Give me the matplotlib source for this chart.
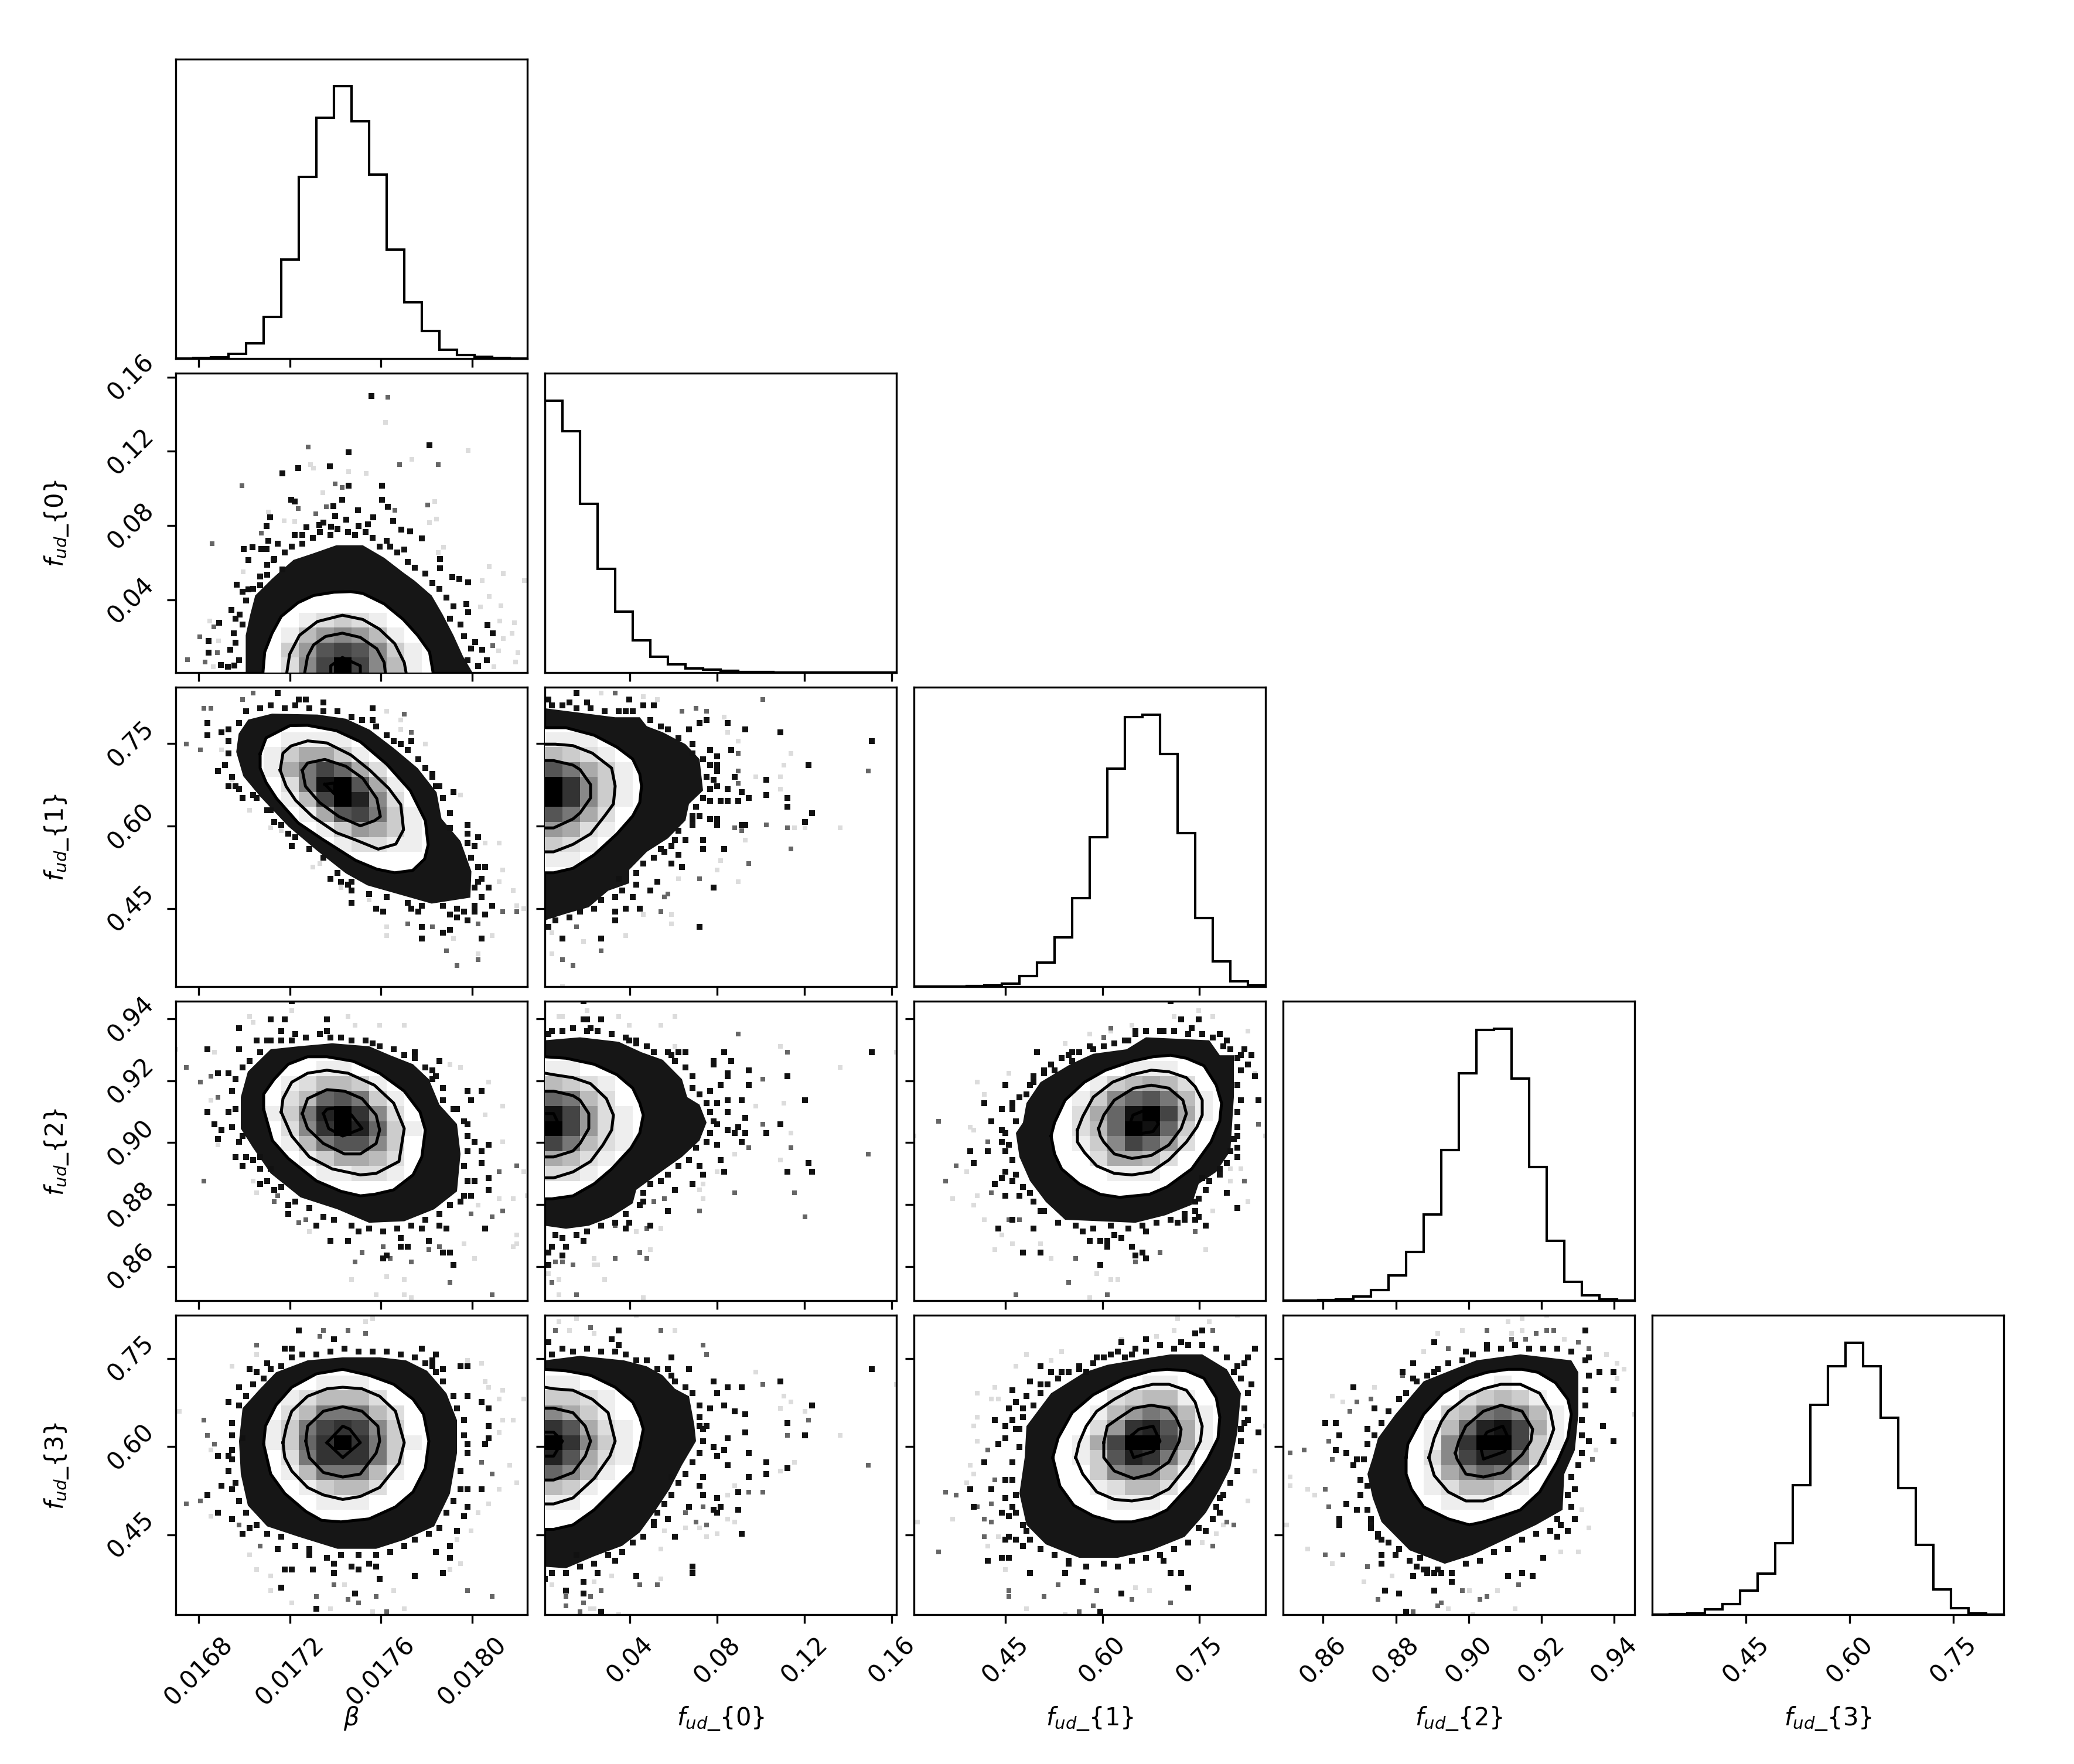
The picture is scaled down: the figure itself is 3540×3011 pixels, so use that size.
import numpy as np
import matplotlib
matplotlib.use("Agg")
import matplotlib.pyplot as plt
from matplotlib.patches import Polygon

names = [r"$\beta$", "$f_{ud}$_{0}", "$f_{ud}$_{1}", "$f_{ud}$_{2}", "$f_{ud}$_{3}"]
ranges = [(0.0167, 0.018242), (0.00099, 0.16207), (0.308, 0.8527), (0.849, 0.9456), (0.3143, 0.823)]
tick_vals = [[0.0168, 0.0172, 0.0176, 0.0180], [0.04, 0.08, 0.12, 0.16], [0.45, 0.60, 0.75],
             [0.86, 0.88, 0.90, 0.92, 0.94], [0.45, 0.60, 0.75]]
tick_txt = [["0.0168", "0.0172", "0.0176", "0.0180"], ["0.04", "0.08", "0.12", "0.16"], ["0.45", "0.60", "0.75"],
            ["0.86", "0.88", "0.90", "0.92", "0.94"], ["0.45", "0.60", "0.75"]]

# 1d histograms, bin heights
hist_beta = [0, 0.5, 5, 22, 75, 205, 489, 899, 1194, 1349, 1177, 912, 540, 279, 135, 42, 17, 7, 0.5, 0]
hist_f0 = [205, 182, 127, 78, 46, 24, 12, 6, 3, 2, 1, 0.5, 0.5, 0, 0, 0, 0, 0, 0, 0]
hist_f1 = [0, 0, 0, 0.3, 1, 2, 8, 18, 37, 67, 113, 165, 204, 206, 176, 116, 52, 19, 4, 1]
hist_f2 = [0, 0, 0.5, 1, 3, 8, 19, 37, 65, 114, 172, 205, 206, 168, 101, 45, 14, 4, 1, 0]
hist_f3 = [0, 0.3, 1, 4, 8, 18, 31, 54, 98, 159, 188, 206, 188, 149, 96, 53, 19, 5, 1, 0]

# 2d panels: positions are percent of each axis range (x from left, y from top),
# read off the picture; cells are (row, first col, grey digits) on the 20x20 grid
b_f0_cells = [(16, 6, "fedcdef"), (17, 5, "feb989bef"), (18, 5, "fc95458cef"), (19, 5, "fd84048bef")]
b_f0_lines = [
    [24.8,100, 25.3,93.2, 27.4,86.9, 30,81.3, 34.8,76.7, 39.2,74.3, 45,73.2, 49.8,73, 53.2,73.6, 59.3,77.1, 64.7,82.3, 68.8,87.6, 72.2,93.2, 73.2,100],
    [31.6,100, 32.4,93.9, 35.2,87.6, 40.3,83, 47.4,80.9, 53.2,82.3, 57.9,85.5, 62.3,90.4, 65,96.7, 65.5,100],
    [36.7,100, 37.5,94.6, 39.2,90.8, 42.6,88, 47.4,86.9, 52.5,88.3, 57.2,92.1, 59.3,96.7, 59.6,100],
    [44.1,100, 44.1,97.8, 47.4,95, 52.5,97.8, 52.5,100]]
b_f0_cloud = [19.9,100, 19.9,87.6, 21.2,80.6, 22.6,74.3, 27.4,68.7, 29.4,66.6, 33.5,62.4, 38.9,60.3, 45.7,57.5, 53.2,57.5, 59.3,61.7, 64.7,66.6, 68,69.4, 72.8,74.3, 75.9,80.6, 79,87.6, 81.7,94.6, 84.4,100]
b_f0_edge = [18,96, 17,90, 19,84, 17,82, 20,76, 22,72, 19,73, 24,68, 26,64, 28,62, 31,60, 33,58, 36,57, 39,55, 41,53, 44,54, 46,52, 49,53, 51,54, 54,53, 56,55, 58,58, 61,58, 63,60, 66,63, 68,65, 71,67, 73,70, 75,72, 77,75, 79,78, 78,82, 81,84, 82,88, 84,92, 83,96, 86,98, 36,54, 42,50, 52,51, 60,56, 29,57, 65,59]
b_f0_dark = [55.7,7.6, 72.2,24, 49.2,26.4, 34.8,31.7, 30.3,33.4, 43.8,31.1, 49.2,37.6, 58.7,37.6, 32.8,42.3, 33.8,42.9, 47.3,42.3, 58.7,42.3, 60.3,44.6, 44.8,44.5, 51.8,45.9, 26.8,48.1, 45.3,47.7, 48.5,48.9, 56.2,48.2, 61.8,49.4, 25.8,51, 37.1,51.5, 40.8,50.8, 44.2,51.2, 54.7,50.5, 64.2,52.2, 66.7,52.9, 33.8,54.1, 70,55.2, 26.3,55.9, 19.4,58.7, 21.8,58.2, 24.3,58.7, 25.8,58.7, 75.2,62, 75.2,65.2, 80.7,68.7, 78.6,68.2, 83.2,69.9, 82.7,77.1, 83.2,79.9, 88.7,84.1, 90.2,87, 85.1,89.9, 87.2,92.4, 88.5,96, 12.3,83.5, 9.3,89.4, 9.3,93.5, 12.8,97.6, 14.8,98.1, 16.6,97.8, 15.8,79.2, 17.4,70.6, 15.5,92.5, 16.5,86.9, 18.2,80.6, 20.6,62.4, 27.9,62.4, 30.4,65.5, 26,67.3, 20.6,72.2, 24,70.8]
b_f0_mid = [60.3,8.1, 37.7,24.6, 63.7,30.5, 74.7,30.5, 18.8,37.6, 45.3,37, 47.3,38.2, 34.8,45.2, 42.8,44.7, 39.8,47, 62.3,45.8, 71.7,44.1, 24.3,53.4, 10.4,56.9, 6.8,88.1, 3.4,95.8, 8.4,96.5, 11.9,93.5, 10.9,84.7, 90.2,91.1]
b_f0_light = [59.7,16.4, 83.2,25.8, 67.2,28.7, 38.4,30.5, 39.2,31.7, 49.2,32.9, 54.2,33.4, 41.8,39.9, 73.7,42.9, 74.2,48.8, 72.2,49.9, 30.8,49.4, 33.8,49.6, 89.1,64.6, 93.2,67, 99.1,69.4, 87.1,69.4, 89.1,74.6, 92.5,77.8, 86.6,78.1, 92.2,82.9, 96.3,83.4, 95.6,86.9, 93.2,88.8, 97.3,93.5, 96.6,96.5, 91.9,92.9, 90.5,98.1, 76.2,58.2, 74.7,59.9, 19.2,66.4, 26.3,46.4, 9.7,82.8, 10.7,98.1, 12.2,89.4]

b_f1_cells = [(3, 5, "feeeef"), (4, 5, "ecaacef"), (5, 5, "ea746adf"), (6, 5, "fd7105ae"), (7, 5, "feb4028df"), (8, 6, "fea547ce"), (9, 7, "fec9acef"), (10, 8, "feddeef")]
b_f1_lines = [
    [24,22.3, 25.7,16.9, 32.5,12.8, 37.5,12.7, 45.7,14.5, 52.5,18.2, 60,25.7, 66.7,34.5, 71,44.6, 71.8,52.7, 70.8,57.4, 67.4,61.2, 62.3,62, 57.2,60.8, 51.1,57.8, 41.6,50.7, 34.8,45.3, 28.7,37.2, 25.7,31.8, 24,27],
    [29.7,27.7, 30.5,22, 32.8,19.6, 37.5,17.9, 43,18.6, 49.8,22.6, 55.2,27.7, 60.6,33.8, 64,39.2, 64.8,47.6, 62.6,52.4, 57.6,54.1, 51.1,51, 45.7,48.6, 38.9,43.2, 34.1,37.8, 31.4,33.1],
    [36,27.7, 37.5,25.3, 42.4,24.1, 48.4,26.4, 53.2,30.4, 57.2,37.2, 58.2,43.2, 56.5,44.6, 52.5,46.3, 46.4,43.2, 40.9,38.5, 36.9,33.1],
    [42.4,32.4, 45.2,32, 45.2,35.7]]
b_f1_cloud = [20.6,10.8, 27.4,8.8, 40.3,9.1, 48.4,10.5, 55.2,14.2, 62,20.3, 68.8,27, 74.2,35.1, 75.6,43.9, 81,51.4, 84.1,61.5, 83.8,70.3, 72.8,72.3, 64.7,69.6, 54.5,66.2, 48.4,62.2, 40.3,54.7, 32.1,46.6, 24,36.5, 19.2,29.7, 17.2,21.6, 17.9,15.5]
b_f1_edge = [15,22, 14,26, 16,30, 18,34, 15,18, 18,12, 20,8, 24,7, 27,6, 31,7, 34,6, 38,7, 42,8, 46,8, 50,10, 53,11, 57,13, 60,16, 62,18, 66,21, 69,24, 71,27, 73,30, 75,33, 76,37, 78,42, 78,47, 83,49, 85,53, 84,57, 86,60, 87,70, 85,73, 80,74, 76,73, 70,73, 66,72, 60,70, 55,69, 50,65, 46,62, 42,57, 38,54, 34,50, 30,46, 26,41, 22,36, 82,75, 78,76, 88,60, 86,65]
b_f1_dark = [29,2, 35,4, 37,4, 42,5, 56,7, 56,11, 46,8, 67,18, 64,19, 79,35, 73,29, 74,33, 83,46, 86,50, 83,52, 87,64, 89,67, 85,67, 87,84, 70,84, 70,80, 78,81, 76,82, 50,72, 57,74, 59,75, 67,74, 69,75, 44,64, 47,65, 49,66, 32,49, 28,45, 33,53, 19,37, 15,33, 17,33, 12,28, 9,12, 9,16, 13,15, 15,14, 50,68, 83,78, 80,77, 88,76, 90,73, 85,75, 27,41, 23,37]
b_f1_mid = [8,7, 10,7, 19,4, 22,2, 65,9, 67,15, 3,19, 7,21, 86,79, 77,88, 86,91, 80,93, 73,80, 66,79, 93,75, 97,75]
b_f1_light = [60,8, 64,11, 64,14, 71,19, 81,36, 92,52, 88,52, 93,61, 92,65, 96,68, 97,73, 99,74, 90,83, 60,80, 60,83, 79,84, 86,89, 39,60, 41,59, 21,41, 16,31, 13,21, 55,71, 47,67, 27,47, 30,48]

f0_f1_cells = [(3, 0, "eeeff"), (4, 0, "bcdef"), (5, 0, "57ace"), (6, 0, "038ce"), (7, 0, "038ce"), (8, 0, "57adf"), (9, 0, "9adef"), (10, 0, "cdef"), (11, 0, "eeff")]
f0_f1_lines = [
    [0,13.5, 6,13.5, 14,16, 20.5,20, 25,24, 27,29, 27.5,33, 27,38.5, 25,43, 20.5,49, 14,56, 8,60.5, 2.5,62, 0,62],
    [0,19, 3,19, 8,19.5, 13.5,22, 19,27, 20,33, 19.5,39, 17,43, 13,49, 8,52.5, 2.5,55, 0,55],
    [0,24.5, 2.5,24.5, 8,26, 10,27.5, 13,32.5, 13,37, 10,42, 8,44, 2.5,47, 0,47]]
f0_f1_cloud = [0,7, 10,8.5, 20,10, 27,10, 29,13, 33.5,15, 40,19, 44,24, 45,34.5, 41,39, 40,44.5, 35,50.5, 29,55, 24,61, 24,65.5, 18,68, 12.5,73.5, 6.5,75.5, 1,77.5, 0,78]
f0_f1_edge = [2,6, 5,6, 9,7, 13,7, 17,8, 21,8, 25,8, 30,11, 33,13, 35,14, 38,17, 42,19, 42,22, 45,24, 47,26, 46,30, 47,34, 45,37, 43,40, 42,43, 42,46, 38,48, 37,51, 33,54, 31,57, 28,59, 26,62, 26,66, 22,68, 20,70, 16,71, 14,74, 10,75, 7,77, 3,78, 1,80, 36,53, 47,38, 49,33]
f0_f1_dark = [9,2, 1,4, 7,5, 12,5, 24,4, 31,6, 28,6, 23,8, 46,11, 44,12, 52,12, 57,14, 67,15, 41,14, 93,18, 75,26, 47,21, 53,21, 49,23, 49,26, 49,28, 54,30, 48,31, 63,31, 52,34, 56,35, 58,37, 63,36, 69,37, 69,40, 55,38, 52,38, 50,38, 76,42, 74,45, 56,46, 57,46, 49,46, 47,44, 49,44, 44,43, 42,44, 51,54, 45,54, 40,51, 39,60, 30,68, 32,65, 48,67, 44,80, 20,78, 23,74, 27,74, 16,84, 5,84, 20,75, 25,70, 21,64, 36,59, 38,56, 34,55, 45,51]
f0_f1_mid = [62,4, 20,2, 39,8, 43,7, 46,8, 55,22, 92,28, 55,28, 55,32, 63,46, 69,47, 54,47, 56,48, 70,54, 58,59, 44,64, 16,88, 5,91, 8,93, 9,80, 34,70, 35,69, 33,75]
f0_f1_light = [51,10, 52,15, 55,18, 70,22, 68,26, 67,30, 67,34, 60,30, 71,47, 74,47, 84,47, 57,51, 50,58, 49,61, 55,65, 38,64, 36,79, 36,76, 28,76, 23,83, 11,85, 2,89, 2,82, 5,100, 16,2, 28,3, 32,4]

b_f2_cells = [(4, 6, "ffeeff"), (5, 5, "fedbbcef"), (6, 5, "fdb657cef"), (7, 5, "ec72038df"), (8, 5, "fd83026ce"), (9, 6, "eb7558cf"), (10, 6, "fecaabdf"), (11, 7, "feeddef"), (12, 8, "fffff")]
b_f2_lines = [
    [25,36, 25,31, 28,26, 32,21, 37.5,18.5, 43,18.5, 50.5,20, 58,24, 65,30, 69.5,37, 71,43, 70,52, 67.5,58, 62,63, 56.5,64.5, 52.5,65, 47,63.5, 40,60, 32,52.5, 27.5,46.5],
    [30,37, 30.5,32.5, 33,27, 37.5,24, 43,23, 49,24, 56.5,28, 62,34, 65,42.5, 63.5,53.5, 57,57.5, 52.5,58, 44.5,56, 38,52, 33,45],
    [36,37.5, 37.5,32.5, 43,29.5, 48,30, 53,32.5, 57,38, 58,43, 57,47.5, 52.5,51, 48,51, 42,47.5, 37.5,42.5],
    [42,37.5, 43,36, 47.5,35.5, 50,38, 53,42.5, 47.5,45, 43.5,42.5]]
b_f2_cloud = [18.5,32, 20.5,23.5, 27,16, 35,15, 44.5,14, 55,15, 61,18, 67.5,21, 72,26, 75,34.5, 80,41, 81,51, 80,63.5, 73.5,69.5, 65,73.5, 55,74, 46,69.5, 35.5,65.5, 27,57.5, 22,49, 18.5,42.5]
b_f2_edge = [17,26, 19,22, 16,30, 21,20, 24,17, 26,13, 30,13, 33,13, 37,12, 41,11, 44,12, 47,12, 50,13, 54,13, 58,15, 62,16, 65,18, 68,19, 71,22, 74,25, 76,29, 76,33, 79,36, 82,40, 83,45, 83,50, 82,55, 83,60, 82,65, 78,68, 75,71, 71,73, 67,75, 63,76, 59,77, 55,76, 50,75, 45,73, 42,72, 38,69, 34,67, 30,62, 26,60, 24,56, 20,52, 18,47, 16,42, 15,37, 17,52, 70,76]
b_f2_dark = [33,0, 27,6, 31,6, 18,9, 43,6, 43,10, 30,10, 18,16, 23,13, 27,13, 34,11, 56,14, 68,17, 73,23, 73,26, 75,20, 83,30, 87,30, 84,33, 80,36, 83,41, 85,47, 89,48, 87,50, 87,54, 89,59, 89,63, 85,60, 84,65, 81,67, 88,76, 77,76, 75,75, 72,80, 76,84, 78,84, 79,88, 66,82, 64,82, 64,79, 60,85, 59,86, 49,80, 52,77, 44,80, 40,75, 32,71, 32,68, 28,63, 24,61, 19,55, 22,53, 12,46, 13,43, 11,41, 9,37, 9,16, 15,24, 12,24, 17,36, 19,45, 24,52, 27,56]
b_f2_mid = [90,72, 78,94, 90,98, 51,87, 67,87, 61,86, 53,84, 59,82, 72,83, 75,82, 84,71, 8,60, 3,22, 7,27, 10,25, 12,32, 28,67, 29,65, 35,74, 37,73, 93,70, 97,55, 92,57]
b_f2_light = [33,3, 49,5, 21,5, 22,7, 51,8, 58,8, 65,8, 0,16, 11,17, 78,21, 81,22, 89,27, 93,35, 88,38, 93,47, 99,57, 96,66, 92,66, 100,65, 86,68, 97,81, 96,82, 97,78, 85,86, 82,81, 60,92, 65,93, 50,93, 57,98, 65,98, 67,99, 22,60, 23,64, 12,48, 10,33, 38,77]

f0_f2_cells = [(4, 0, "eefff"), (5, 0, "bcdef"), (6, 0, "67bdf"), (7, 0, "149de"), (8, 0, "049de"), (9, 0, "47bde"), (10, 0, "abdef"), (11, 0, "ddeff")]
f0_f2_lines = [
    [0,18.5, 6,19, 14,21, 20.5,24.5, 25,29, 27,34, 28,38, 27,44, 24.5,49, 19,56, 14,61, 8,65, 2,66, 0,66],
    [0,24, 2.5,24.5, 8,25.5, 13,27.5, 17.5,32.5, 19.5,38, 19,43, 16.5,48, 13,53.5, 8,57, 2.5,59, 0,59],
    [0,30, 2.5,30, 8,31.5, 10,33, 12.5,37.5, 12.5,42.5, 10,47.5, 8,50, 2.5,52, 0,52],
    [0,37.5, 2.5,37.5, 3.5,40]]
f0_f2_cloud = [0,13, 10,12, 21,13.5, 27.5,17, 33.5,19.5, 39,26, 40.5,32, 44,34.5, 46,40.5, 44,46.5, 39,52, 33,57, 26,63, 25,67.5, 19,72, 12.5,75, 6,76, 0,75]
f0_f2_edge = [1,11, 5,10, 8,9, 12,10, 15,10, 19,11, 23,12, 26,14, 29,15, 31,17, 35,17, 37,20, 40,22, 42,25, 42,29, 44,31, 46,34, 47,37, 48,40, 47,44, 46,47, 43,49, 41,53, 38,55, 35,58, 33,60, 30,61, 28,64, 27,68, 23,71, 20,74, 16,75, 12,77, 9,78, 5,79, 3,78, 6,82, 11,80]
f0_f2_dark = [11,0, 11,6, 12,6, 16,6, 2,10, 13,9, 24,13, 26,13, 36,18, 38,17, 40,17, 51,17, 48,20, 48,21, 53,20, 93,17, 58,23, 52,24, 52,25, 69,25, 58,28, 50,28, 47,30, 52,33, 56,33, 49,34, 74,33, 52,37, 57,39, 67,41, 49,41, 55,42, 63,44, 52,43, 54,44, 57,44, 56,47, 49,48, 50,53, 51,57, 75,54, 69,57, 76,57, 45,58, 44,55, 42,61, 37,63, 35,70, 30,75, 23,76, 24,74, 28,67, 1,88, 1,84, 5,85, 2,82]
f0_f2_mid = [55,11, 69,17, 62,26, 92,51, 70,49, 58,49, 62,41, 54,64, 71,64, 74,72, 27,84, 20,86, 29,86, 2,94, 9,98, 5,87, 3,87, 8,88, 34,66, 31,67, 44,70, 29,76, 20,75]
f0_f2_light = [12,3, 4,5, 5,5, 21,5, 37,5, 33,8, 24,8, 67,15, 37,15, 84,22, 100,17, 68,34, 60,35, 70,44, 67,53, 54,51, 49,57, 45,61, 44,63, 45,66, 33,76, 30,83, 14,86, 14,88, 15,88, 17,93, 4,93, 1,91, 4,98, 28,99, 26,77]

f1_f2_cells = [(4, 10, "ffeeeff"), (5, 9, "fecbabdf"), (6, 8, "fec8657be"), (7, 8, "fda6104ae"), (8, 8, "fdb6016cf"), (9, 8, "fec8469df"), (10, 9, "fdaabdf"), (11, 9, "ffeeef")]
f1_f2_lines = [
    [39,45, 40,40.5, 43,33, 48.5,27, 54.5,23, 62,20, 68,18.5, 73,18, 77.5,19, 82.5,21.5, 86,28, 87.5,34, 87,40, 84.5,47, 79,56, 72,62, 67,64.5, 58.5,65.5, 53,64.5, 47,61, 42,56, 40,51],
    [46.5,43, 48,38.5, 51,32, 56.5,27, 62,24.5, 67.5,23, 72.5,23.5, 77.5,25.5, 80,28.5, 82,33, 82,38, 80.5,42, 77.5,47, 72.5,53, 67.5,57, 62,58, 57,57.5, 52,55, 48.5,50.5, 46.5,47],
    [52.5,42.5, 54,38, 57,33, 62.5,29, 67.5,28, 72.5,29, 76.5,33, 77.5,37.5, 76,42.5, 72.5,48, 67.5,51.5, 62,52.5, 57,51, 54,47, 53,45],
    [61,42.5, 62.3,38, 67.5,35.5, 69.5,41, 68,43.5, 63,44.5]]
f1_f2_cloud = [31,40.5, 32,34, 36,27, 44.5,21, 51,17.5, 60.5,16, 66,12, 84,13, 87,18, 91,18, 91,32, 90.5,41, 90,50, 86,57, 81,61, 79,68, 71.5,71.5, 63,74, 53,73.5, 43,73, 37.5,67, 33,60, 30,52, 29,44]
f1_f2_edge = [29,40, 28,36, 30,32, 33,28, 34,25, 37,23, 39,21, 42,19, 45,20, 47,17, 50,15, 54,15, 57,14, 60,13, 63,11, 66,10, 70,10, 74,10, 78,11, 82,11, 85,12, 88,15, 90,16, 92,19, 93,23, 92,28, 93,33, 92,37, 92,42, 91,46, 92,52, 89,54, 87,58, 84,60, 83,63, 81,66, 80,70, 77,71, 73,73, 69,74, 65,75, 61,76, 56,75, 51,76, 46,75, 41,74, 37,70, 34,67, 31,62, 29,58, 28,53, 27,48, 26,44]
f1_f2_dark = [73,0, 76,6, 81,6, 79,9, 71,10, 63,10, 61,13, 87,11, 89,13, 94,16, 96,18, 95,21, 97,25, 98,33, 93,18, 35,17, 45,17, 44,18, 51,16, 40,23, 37,24, 34,27, 26,28, 32,31, 20,34, 28,34, 25,36, 22,40, 25,43, 25,47, 26,50, 16,50, 17,54, 21,50, 26,57, 25,59, 28,60, 23,61, 26,65, 30,65, 33,64, 36,70, 28,73, 24,76, 34,76, 31,84, 36,84, 48,77, 57,78, 59,79, 50,80, 53,80, 55,80, 55,82, 62,82, 63,85, 65,84, 66,86, 53,88, 66,77, 75,74, 77,73, 80,73, 81,72, 80,67, 89,64, 92,69, 83,75, 92,45, 92,49, 90,50, 87,56, 82,59]
f1_f2_mid = [7,40, 12,55, 9,60, 22,64, 21,47, 98,41, 94,60, 29,98, 55,98, 44,94, 63,87, 70,84, 80,77, 27,73, 30,73, 46,86, 54,12, 56,9]
f1_f2_light = [81,3, 74,5, 85,5, 62,8, 50,11, 56,10, 43,14, 27,24, 18,27, 20,31, 16,42, 17,43, 0,45, 15,57, 11,66, 18,65, 17,68, 20,73, 25,78, 28,81, 23,83, 36,81, 39,86, 52,91, 56,93, 58,93, 50,99, 83,83, 85,70, 95,67, 100,45, 95,10, 97,24, 90,56, 93,56, 90,60]

b_f3_cells = [(4, 6, "ffeeeff"), (5, 5, "fedbbbdf"), (6, 5, "fdb777bdf"), (7, 5, "ec74348cf"), (8, 5, "ec63037ce"), (9, 5, "fd73337cf"), (10, 5, "feb777be"), (11, 6, "fecbbdf"), (12, 7, "feeef")]
b_f3_lines = [
    [25,43, 25.5,37, 28.5,30, 33,24, 40,19.5, 47.5,18, 55,20, 62,23, 67.5,28, 70.5,33, 72,42, 71,51, 67.5,59, 62.5,64, 55,68, 47,69, 41.5,68.5, 37,65.5, 31,59.5, 27,53],
    [30.5,42.5, 31.5,37, 33,32, 37.5,27, 43,24.5, 47.5,24, 53,24.5, 58,27, 62.5,32, 65,42.5, 63.5,49.5, 58,57.5, 52.5,60.5, 47.5,61.5, 42,60, 37.5,57.5, 33,52, 31,47.5],
    [37,42, 37.5,37, 42,32, 47.5,30.5, 53,32, 57.5,37, 58,42, 57,46, 52.5,53, 47.5,54, 42,52.5, 38,47.5],
    [43,42.5, 47.5,37, 49.5,38, 52.5,42.5, 47.5,47.5]]
b_f3_cloud = [18,42, 19,31, 24,24.5, 28.5,19, 37.5,15, 47.5,14, 58,14, 65.5,15, 71.5,18.5, 77,26, 80,35, 80,46, 78,59.5, 73.5,70.5, 65,75, 57,78, 46,78, 35,74, 26,70.5, 20.5,63.5, 18.5,53]
b_f3_edge = [16,40, 16,36, 18,30, 20,27, 22,23, 25,21, 27,18, 30,17, 33,14, 36,13, 40,13, 44,12, 48,11, 52,12, 56,12, 60,12, 64,13, 68,14, 71,16, 74,19, 76,22, 79,27, 80,31, 82,35, 82,40, 83,46, 81,52, 81,58, 79,62, 77,66, 75,71, 72,73, 68,75, 65,77, 61,79, 57,80, 52,80, 47,80, 43,81, 38,78, 34,77, 30,74, 26,73, 23,70, 20,66, 18,62, 17,56, 15,52, 16,48, 50,84, 45,83, 55,83]
b_f3_dark = [35,5, 45,8, 31,11, 33,11, 70,11, 74,13, 73,15, 73,17, 83,17, 81,17, 76,18, 21,18, 26,16, 23,19, 18,24, 15,29, 83,27, 87,29, 89,31, 89,37, 89,41, 88,43, 83,43, 19,41, 16,45, 15,47, 12,47, 13,57, 16,58, 9,60, 12,66, 16,68, 21,71, 19,73, 29,78, 38,80, 30,91, 33,85, 31,85, 39,85, 45,86, 51,93, 40,98, 58,88, 68,87, 74,79, 78,77, 78,81, 80,72, 82,67, 83,64, 83,58, 87,58, 57,84, 52,85, 76,86]
b_f3_mid = [8,35, 23,10, 3,63, 7,62, 18,70, 24,77, 40,94, 49,95, 52,96, 57,94, 45,90, 83,92, 90,94, 60,99, 9,40, 11,43, 42,5, 49,5, 41,7, 54,6, 90,53, 87,49]
b_f3_light = [56,1, 54,2, 16,17, 23,13, 83,15, 87,16, 88,22, 93,25, 99,28, 92,28, 89,24, 96,35, 93,35, 1,32, 92,39, 95,50, 97,56, 92,58, 89,63, 86,66, 84,72, 80,75, 81,83, 78,85, 62,92, 48,90, 27,92, 27,87, 21,80, 23,85, 44,98, 65,98, 56,99, 10,67, 33,96, 10,45]

f0_f3_cells = [(4, 0, "eefff"), (5, 0, "ccdef"), (6, 0, "8acef"), (7, 0, "35ade"), (8, 0, "038ce"), (9, 0, "25ade"), (10, 0, "68bef"), (11, 0, "bceff"), (12, 0, "eefff")]
f0_f3_lines = [
    [0,18, 6,18.5, 13,20, 20,24, 25,29, 27,34, 28,38, 27,44, 25,52, 20,58, 14,65, 8,70, 2.5,71.5, 0,71.5],
    [0,24, 2.5,24.5, 8,25, 13.5,28, 18,32.5, 20,42, 18.5,47, 14,54.5, 8,61, 2.5,63, 0,63],
    [0,31, 2.5,31, 8,32.5, 11.5,37, 13,42, 11.5,47, 8,52.5, 2.5,55, 0,55],
    [0,39, 2.5,39, 5,42, 2.5,47, 0,47]]
f0_f3_cloud = [0,15, 10,13.5, 22.5,15, 29,17, 33.5,20, 37,24.5, 41,27, 42.5,36.5, 43,42, 39,50, 35.5,58, 31,66, 27,72.5, 22,77, 14,80.5, 6,84.5, 0,84]
f0_f3_edge = [2,13, 5,11, 8,12, 12,11, 16,12, 20,12, 23,13, 26,15, 29,15, 32,18, 35,18, 37,22, 40,24, 42,26, 44,30, 44,34, 45,38, 45,42, 44,46, 42,49, 40,53, 38,56, 36,60, 34,63, 32,66, 31,70, 28,74, 25,76, 22,79, 18,80, 14,83, 10,84, 6,86, 2,86, 0,88, 36,54]
f0_f3_dark = [21,5, 1,9, 19,8, 21,10, 36,14, 41,18, 36,20, 48,22, 52,24, 56,24, 67,22, 93,18, 49,26, 51,30, 54,32, 57,33, 47,31, 76,30, 69,36, 74,40, 57,39, 52,41, 44,37, 46,37, 48,44, 51,45, 58,46, 49,47, 52,50, 63,49, 69,51, 63,53, 58,54, 45,54, 44,57, 55,59, 45,60, 49,61, 55,65, 41,64, 48,65, 50,64, 49,66, 56,73, 37,74, 31,69, 35,68, 42,84, 42,86, 26,87, 15,86, 11,89, 6,92, 11,93, 16,99, 9,80, 20,82]
f0_f3_mid = [33,5, 3,5, 13,4, 45,10, 46,13, 62,23, 75,35, 69,40, 92,50, 62,59, 58,59, 45,64, 40,66, 43,69, 46,70, 27,90, 32,90, 16,92, 13,94, 11,96, 6,97, 10,99, 6,94]
f0_f3_light = [4,2, 9,1, 7,5, 37,5, 26,0, 14,6, 60,19, 68,27, 70,29, 67,31, 74,32, 84,40, 100,23, 71,49, 67,52, 54,57, 52,60, 54,69, 52,68, 49,73, 46,74, 44,71, 40,71, 34,72, 33,78, 33,88, 19,87, 13,98, 14,98, 21,100, 14,89, 2,90]

f1_f3_cells = [(4, 11, "ffeef"), (5, 10, "fdcbbef"), (6, 9, "feb978be"), (7, 9, "fd9325ae"), (8, 9, "ea4004ae"), (9, 9, "ec5237cf"), (10, 9, "fc877be"), (11, 9, "fedbbdf"), (12, 9, "ffeeef")]
f1_f3_lines = [
    [39.5,47.5, 41,41, 45,32.5, 51,26.5, 60,21, 67.5,18.5, 72,18, 77.5,18.5, 82.5,21, 86,27.5, 87,34, 86.5,41, 83.5,48, 79,56, 72,65, 67.5,67.5, 62,69, 57,69, 51,67, 45.5,63.5, 41.5,57],
    [46,47.5, 47,42.5, 49,37, 52,32, 57,28, 62.5,24.5, 68,23, 72.5,23, 77.5,25, 80,29, 82,37, 81.5,42, 78,50, 72.5,58, 67.5,61, 62,62, 57,61.5, 52,59, 48,53],
    [54,42.5, 55,37, 58,34.5, 62.5,31, 67.5,30, 72.5,31, 74.5,34, 76,38, 75.5,42, 72.5,49, 67.5,53, 62.5,54.5, 57,52, 54,47.5],
    [62,40, 64,38, 68,37, 70,42, 68,45.5, 62.5,47.5, 61,43]]
f1_f3_cloud = [31.5,47.5, 32,37, 39,26, 48.5,19, 55,16.5, 65,14.5, 73,13, 82,13, 89,18, 93,26, 92,39, 90,51, 87,58, 83,66, 77,74, 67.5,78.5, 58,81, 47,81, 37.5,76.5, 32,70, 30,59.5]
f1_f3_edge = [30,44, 30,38, 31,34, 34,30, 36,26, 38,23, 41,21, 44,19, 47,17, 51,16, 54,14, 58,12, 62,13, 66,12, 70,10, 74,11, 78,10, 82,10, 86,11, 89,14, 92,17, 93,21, 95,26, 94,31, 94,36, 93,42, 92,47, 92,52, 90,56, 88,60, 86,64, 85,68, 81,71, 78,76, 74,78, 70,80, 66,81, 62,82, 58,84, 54,83, 49,84, 44,83, 40,80, 36,78, 33,75, 31,70, 29,66, 29,60, 28,55, 28,49]
f1_f3_dark = [82,5, 80,6, 66,8, 76,9, 59,9, 63,11, 56,13, 52,14, 60,14, 97,11, 95,14, 94,16, 96,23, 91,19, 36,17, 39,19, 42,19, 47,18, 49,19, 33,22, 28,25, 36,23, 38,23, 32,27, 29,29, 27,31, 31,31, 28,35, 23,35, 26,37, 29,38, 26,41, 24,43, 20,49, 26,55, 22,58, 16,58, 17,64, 25,66, 26,61, 28,64, 27,67, 32,72, 26,75, 27,74, 29,75, 31,77, 21,82, 25,81, 27,81, 44,82, 33,86, 43,86, 48,89, 59,93, 53,99, 78,91, 76,86, 73,86, 71,82, 78,76, 83,72, 87,66, 86,64, 87,61, 98,39, 95,35, 93,38]
f1_f3_mid = [7,79, 9,59, 12,60, 18,64, 22,63, 20,68, 22,69, 20,74, 21,45, 23,55, 27,92, 27,94, 37,94, 41,90, 52,92, 62,95, 73,96, 51,97, 47,99, 89,69, 91,70, 85,77, 85,5]
f1_f3_light = [42,12, 32,13, 39,15, 29,17, 75,1, 84,2, 92,0, 74,5, 69,7, 59,8, 18,26, 23,24, 22,28, 24,28, 18,34, 17,37, 18,42, 16,50, 17,53, 15,56, 11,68, 1,69, 21,77, 24,74, 26,85, 32,98, 43,100, 67,92, 63,91, 100,37, 97,52, 95,62, 88,70, 82,76, 86,73]

f2_f3_cells = [(4, 10, "ffeff"), (5, 9, "fdcbcef"), (6, 8, "fcb768be"), (7, 7, "feb6214ae"), (8, 7, "fe83004ce"), (9, 7, "fd84227cf"), (10, 7, "fea867bf"), (11, 8, "edbbce"), (12, 8, "feeef")]
f2_f3_lines = [
    [35,47.5, 35.5,43, 40,33, 45.5,26, 52.5,21, 58,19, 64,18, 68,18, 72.5,19, 77.5,22.5, 81,28, 82,33, 81,41, 78,49, 73,59, 67.5,65, 62.5,67, 57,69, 53,70, 47,68, 40,64, 36.5,58, 35,53],
    [41.5,47.5, 43,41, 45,35.5, 47,32, 52.5,27, 57,24.5, 62,23, 67.5,23, 73,26, 76,32, 77,38, 75.5,43, 72.5,50, 67.5,55.5, 62,60, 57,62, 52,62, 47,59, 43,53.5],
    [49,46, 50,42, 52,37, 57,32, 62,30, 68,32, 71,38, 70.5,42, 68,46.5, 62.5,52.5, 57,54, 52,53, 49.5,48],
    [57,41, 58,39, 62.5,37, 64.5,42, 63,45.5, 57,48, 56,43]]
f2_f3_cloud = [25.5,47.5, 27,41, 32,33, 40,22, 48.5,18, 55,15, 67.5,13, 82,15, 84,19, 84,33, 83,45, 80,53, 79.5,65, 72,70, 63,75, 54,80, 46,83, 36,78.5, 28,69, 25.5,61, 24,53]
f2_f3_edge = [23,48, 24,43, 26,40, 28,36, 30,32, 33,28, 35,26, 38,22, 41,20, 44,18, 47,16, 51,15, 54,13, 58,11, 62,11, 66,10, 70,11, 74,11, 78,11, 82,12, 86,15, 87,20, 86,25, 86,30, 85,35, 85,40, 85,46, 84,50, 82,54, 81,60, 82,64, 78,68, 76,72, 72,73, 68,75, 64,78, 60,79, 56,82, 52,83, 48,86, 44,85, 40,85, 36,82, 32,80, 30,76, 27,73, 25,70, 24,65, 22,60, 22,55]
f2_f3_dark = [86,5, 43,9, 58,10, 62,11, 52,12, 87,14, 37,16, 43,19, 34,19, 37,21, 20,24, 94,19, 94,25, 90,19, 26,31, 12,36, 15,36, 24,38, 16,40, 15,45, 18,46, 21,48, 20,50, 91,37, 94,42, 87,42, 24,57, 22,60, 18,63, 16,68, 16,70, 21,65, 25,68, 25,71, 27,74, 28,75, 28,80, 28,83, 33,78, 39,81, 38,84, 41,85, 41,86, 43,86, 45,86, 37,87, 33,93, 29,92, 43,92, 48,89, 35,99, 64,87, 68,86, 71,87, 74,81, 81,72, 79,70, 78,74, 83,58, 83,68]
f2_f3_mid = [58,5, 65,8, 69,8, 72,6, 75,5, 77,5, 84,9, 87,11, 47,11, 34,20, 25,28, 21,29, 19,32, 13,42, 2,46, 6,45, 14,48, 17,80, 12,80, 24,84, 27,95, 44,97, 45,96, 56,95, 58,94, 51,92, 67,90, 88,48, 37,99, 12,58, 13,64]
f2_f3_light = [64,2, 68,1, 51,5, 44,6, 65,6, 68,5, 75,0, 80,8, 92,13, 95,16, 97,18, 95,21, 40,12, 14,27, 17,29, 26,24, 2,54, 2,57, 7,58, 9,60, 1,70, 7,78, 14,83, 23,89, 31,87, 47,98, 66,98, 54,100, 61,92, 53,92, 89,45, 87,71, 84,79, 79,79, 85,65, 100,33]

panels = {
    (1, 0): (b_f0_cells, b_f0_lines, b_f0_cloud, b_f0_edge, b_f0_dark, b_f0_mid, b_f0_light),
    (2, 0): (b_f1_cells, b_f1_lines, b_f1_cloud, b_f1_edge, b_f1_dark, b_f1_mid, b_f1_light),
    (2, 1): (f0_f1_cells, f0_f1_lines, f0_f1_cloud, f0_f1_edge, f0_f1_dark, f0_f1_mid, f0_f1_light),
    (3, 0): (b_f2_cells, b_f2_lines, b_f2_cloud, b_f2_edge, b_f2_dark, b_f2_mid, b_f2_light),
    (3, 1): (f0_f2_cells, f0_f2_lines, f0_f2_cloud, f0_f2_edge, f0_f2_dark, f0_f2_mid, f0_f2_light),
    (3, 2): (f1_f2_cells, f1_f2_lines, f1_f2_cloud, f1_f2_edge, f1_f2_dark, f1_f2_mid, f1_f2_light),
    (4, 0): (b_f3_cells, b_f3_lines, b_f3_cloud, b_f3_edge, b_f3_dark, b_f3_mid, b_f3_light),
    (4, 1): (f0_f3_cells, f0_f3_lines, f0_f3_cloud, f0_f3_edge, f0_f3_dark, f0_f3_mid, f0_f3_light),
    (4, 2): (f1_f3_cells, f1_f3_lines, f1_f3_cloud, f1_f3_edge, f1_f3_dark, f1_f3_mid, f1_f3_light),
    (4, 3): (f2_f3_cells, f2_f3_lines, f2_f3_cloud, f2_f3_edge, f2_f3_dark, f2_f3_mid, f2_f3_light),
}
hists = [hist_beta, hist_f0, hist_f1, hist_f2, hist_f3]


def to_data(flat, xr, yr):
    p = np.array(flat, dtype=float).reshape(-1, 2)
    return xr[0] + p[:, 0] / 100 * (xr[1] - xr[0]), yr[1] - p[:, 1] / 100 * (yr[1] - yr[0])


fig, axes = plt.subplots(5, 5, figsize=(11.8, 10.04))
fig.subplots_adjust(left=300 / 3540, right=3420 / 3540, top=1 - 102 / 3012, bottom=1 - 2757 / 3012,
                    wspace=0.05, hspace=0.05)

for r in range(5):
    for c in range(5):
        ax = axes[r, c]
        if c > r:
            ax.axis("off")
            continue
        xr = ranges[c]
        ax.set_xlim(xr)
        ax.set_xticks(tick_vals[c])
        if r == 4:
            ax.set_xticklabels(tick_txt[c], rotation=45)
            ax.set_xlabel(names[c], fontsize=10)
            ax.xaxis.set_label_coords(0.5, -0.3)
        else:
            ax.set_xticklabels([])
        if c == r:
            ax.stairs(hists[c], np.linspace(xr[0], xr[1], 21), color="k", lw=1.0)
            ax.set_ylim(0, 1.1 * max(hists[c]))
            ax.set_yticks([])
            continue

        yr = ranges[r]
        ax.set_ylim(yr)
        ax.set_yticks(tick_vals[r])
        if c == 0:
            ax.set_yticklabels(tick_txt[r], rotation=45, va="center")
            ax.set_ylabel(names[r], fontsize=10)
            ax.yaxis.set_label_coords(-0.3, 0.5)
        else:
            ax.set_yticklabels([])

        cells, lines, cloud, edge, dark, mid, light = panels[(r, c)]
        cx, cy = to_data(cloud, xr, yr)
        ax.fill(cx, cy, color="#161616", lw=0, zorder=1)
        for pts, col, ms in [(light, "#dcdcdc", 2.0), (mid, "#666666", 2.0), (edge, "#141414", 2.3), (dark, "#111111", 2.2)]:
            px, py = to_data(pts, xr, yr)
            ax.plot(px, py, "s", color=col, ms=ms, mew=0, zorder=2)

        grid = np.full((20, 20), 15.0)
        for row, col0, digits in cells:
            for k, d in enumerate(digits):
                grid[row, col0 + k] = int(d, 16)
        xe = np.linspace(xr[0], xr[1], 21)
        ye = np.linspace(yr[1], yr[0], 21)
        mesh = ax.pcolormesh(xe, ye, grid / 15, cmap="gray", vmin=0, vmax=1, zorder=3, lw=0)
        ox, oy = to_data(lines[0], xr, yr)
        outer = Polygon(np.column_stack([ox, oy]), closed=True, transform=ax.transData)
        mesh.set_clip_path(outer)

        for line in lines:
            lx, ly = to_data(line, xr, yr)
            open_end = line[0] == 0 or line[1] == 100
            if not open_end:
                lx, ly = np.append(lx, lx[0]), np.append(ly, ly[0])
            ax.plot(lx, ly, color="k", lw=1.2, zorder=4)

fig.savefig("out.png", dpi=300)
